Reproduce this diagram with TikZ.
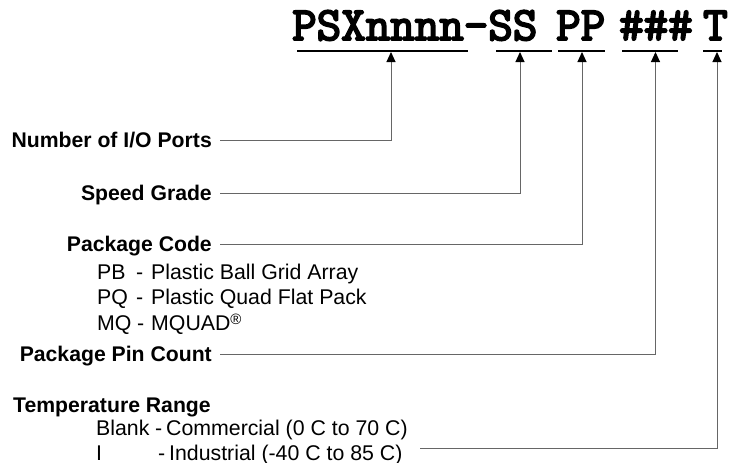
\documentclass[tikz,border=0pt]{standalone}
\usepackage{fontspec}
\setmainfont{Liberation Sans}
\newfontfamily\codefont{Latin Modern Mono}[FakeBold=4]
\usetikzlibrary{arrows.meta}
\begin{document}
\begin{tikzpicture}[x=1pt,y=-1pt,
  code/.style={inner sep=0pt,anchor=base west,font=\codefont\fontsize{47.6}{50}\selectfont},
  lbl/.style={inner sep=0pt,anchor=base east,font=\bfseries\fontsize{21.2}{24}\selectfont},
  sub/.style={inner sep=0pt,anchor=base west,font=\fontsize{21.3}{24}\selectfont},
  uline/.style={line width=2pt,black},
  conn/.style={line width=1pt,draw=black!60,-{Triangle[length=10pt,width=9pt,color=black,fill=black]}}]
\useasboundingbox (0,0) rectangle (732,463);
% part number
\node[code] (c1) at (292,40) {PSXnnnn-SS};
\node[code] (c2) at (556,40) {PP};
\node[code] (c3) at (619,40) {\#\#\#};
\node[code] (c4) at (703,40) {T};
% underlines
\draw[uline] (297,50.5) coordinate (u1a) -- (468,50.5) coordinate (u1b);
\draw[uline] (496,50.5) coordinate (u2a) -- (552,50.5) coordinate (u2b);
\draw[uline] (558,50.5) coordinate (u3a) -- (605,50.5) coordinate (u3b);
\draw[uline] (622,50.5) coordinate (u4a) -- (678,50.5) coordinate (u4b);
\draw[uline] (703,50.5) coordinate (u5a) -- (722,50.5) coordinate (u5b);
% arrow targets
\coordinate (t1) at (391,52);
\coordinate (t2) at (520,52);
\coordinate (t3) at (582,52);
\coordinate (t4) at (655.5,52);
\coordinate (t5) at (717,52);
% labels
\node[lbl] (io) at (212,147) {Number of I/O Ports};
\node[lbl] (sg) at (212,200) {Speed Grade};
\node[lbl] (pc) at (212,251) {Package Code};
\node[sub] (pb) at (97,279) {PB};
\node[sub] (pbx) at (136,279) {-};
\node[sub] (pbd) at (151,279) {Plastic Ball Grid Array};
\node[sub] (pq) at (97,304) {PQ};
\node[sub] (pqx) at (136,304) {-};
\node[sub] (pqd) at (151,304) {Plastic Quad Flat Pack};
\node[sub] (mq) at (97,330) {MQ};
\node[sub] (mqx) at (137,330) {-};
\node[sub] (mqd) at (151,330) {MQUAD\raisebox{0.45ex}{\fontsize{15}{15}\selectfont ®}};
\node[lbl] (pin) at (212,361) {Package Pin Count};
\node[lbl,anchor=base west] (tr) at (13,412) {Temperature Range};
\node[sub] (bl) at (96,435) {Blank};
\node[sub] (blx) at (155,435) {-};
\node[sub] (bld) at (166,435) {Commercial (0 C to 70 C)};
\node[sub] (in) at (96,460) {I};
\node[sub] (inx) at (158,460) {-};
\node[sub] (ind) at (169,460) {Industrial (-40 C to 85 C)};
\coordinate (ts) at (420,448);
% connectors
\draw[conn] ([shift={(8,-7)}]io.base east) -| (t1);
\draw[conn] ([shift={(8,-7)}]sg.base east) -| (t2);
\draw[conn] ([shift={(8,-7)}]pc.base east) -| (t3);
\draw[conn] ([shift={(8,-7)}]pin.base east) -| (t4);
\draw[conn] (ts) -| (t5);
\end{tikzpicture}
\end{document}
